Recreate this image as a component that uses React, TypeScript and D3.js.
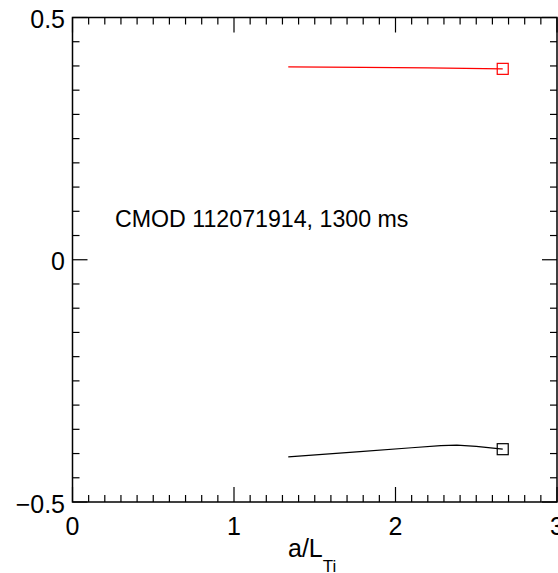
import React from "react";
import * as d3 from "d3";

const redX = [1.336, 1.8, 2.2, 2.664];
const redY = [0.398, 0.3972, 0.396, 0.394];
const blackX = [1.336, 1.78, 2.1, 2.28, 2.38, 2.5, 2.664];
const blackY = [-0.407, -0.396, -0.388, -0.3835, -0.3825, -0.385, -0.391];
const xTicks = [0, 1, 2, 3];
const yTicks = [-0.5, 0, 0.5];
const yTickLabels = ["\u22120.5", "0", "0.5"];
const annotation = "CMOD 112071914, 1300 ms";

const W = 558, H = 573;
const L = 72.5, R = 557, T = 17.5, B = 502;

export default function App() {
  const x = d3.scaleLinear().domain([0, 3]).range([L, R]);
  const y = d3.scaleLinear().domain([-0.5, 0.5]).range([B, T]);
  const line = d3.line<[number, number]>().x(d => x(d[0])).y(d => y(d[1]));
  const red: [number, number][] = redX.map((v, i) => [v, redY[i]]);
  const black: [number, number][] = blackX.map((v, i) => [v, blackY[i]]);
  const xMinor = d3.range(0, 31).map(i => i / 10);
  const yMinor = d3.range(0, 21).map(i => -0.5 + i * 0.05);
  const font = "Liberation Sans, Arial, Helvetica, sans-serif";
  const maj = 15, mnr = 7;
  const isMajX = (v: number) => Math.abs(v - Math.round(v)) < 1e-6;
  const isMajY = (v: number) => Math.abs(v * 2 - Math.round(v * 2)) < 1e-6;
  const ms = 11;
  const lastR = red[red.length - 1];
  const lastB = black[black.length - 1];
  return (
    <svg width={W} height={H} style={{ position: "absolute", left: 0, top: 0, background: "#fff" }} fontFamily={font}>
      <rect x={0} y={0} width={W} height={H} fill="#fff" />
      {xMinor.map((v, i) => {
        const len = isMajX(v) ? maj : mnr;
        return (
          <g key={"xt" + i} stroke="#000" strokeWidth={1.2}>
            <line x1={x(v)} x2={x(v)} y1={B} y2={B - len} />
            <line x1={x(v)} x2={x(v)} y1={T} y2={T + len} />
          </g>
        );
      })}
      {yMinor.map((v, i) => {
        const len = isMajY(v) ? maj : mnr;
        return (
          <g key={"yt" + i} stroke="#000" strokeWidth={1.2}>
            <line x1={L} x2={L + len} y1={y(v)} y2={y(v)} />
            <line x1={R} x2={R - len} y1={y(v)} y2={y(v)} />
          </g>
        );
      })}
      <rect x={L} y={T} width={R - L} height={B - T} fill="none" stroke="#000" strokeWidth={1.5} />
      {xTicks.map(v => (
        <text key={"xl" + v} x={x(v)} y={535} fontSize={25} textAnchor="middle" fill="#000">{v}</text>
      ))}
      {yTicks.map((v, i) => (
        <text key={"yl" + v} x={65} y={y(v) + 10.5} fontSize={25} textAnchor="end" fill="#000">{yTickLabels[i]}</text>
      ))}
      <text x={288} y={557} fontSize={25} fill="#000">
        a/L<tspan fontSize={17} dy={15} fill="#000">Ti</tspan>
      </text>
      <text x={115} y={227} fontSize={23.2} fill="#000">{annotation}</text>
      <path d={line(red) || ""} fill="none" stroke="#ff0000" strokeWidth={1.2} />
      <rect x={x(lastR[0]) - ms / 2} y={y(lastR[1]) - ms / 2} width={ms} height={ms} fill="none" stroke="#ff0000" strokeWidth={1.2} />
      <path d={line(black) || ""} fill="none" stroke="#000" strokeWidth={1.2} />
      <rect x={x(lastB[0]) - ms / 2} y={y(lastB[1]) - ms / 2} width={ms} height={ms} fill="none" stroke="#000" strokeWidth={1.2} />
    </svg>
  );
}
